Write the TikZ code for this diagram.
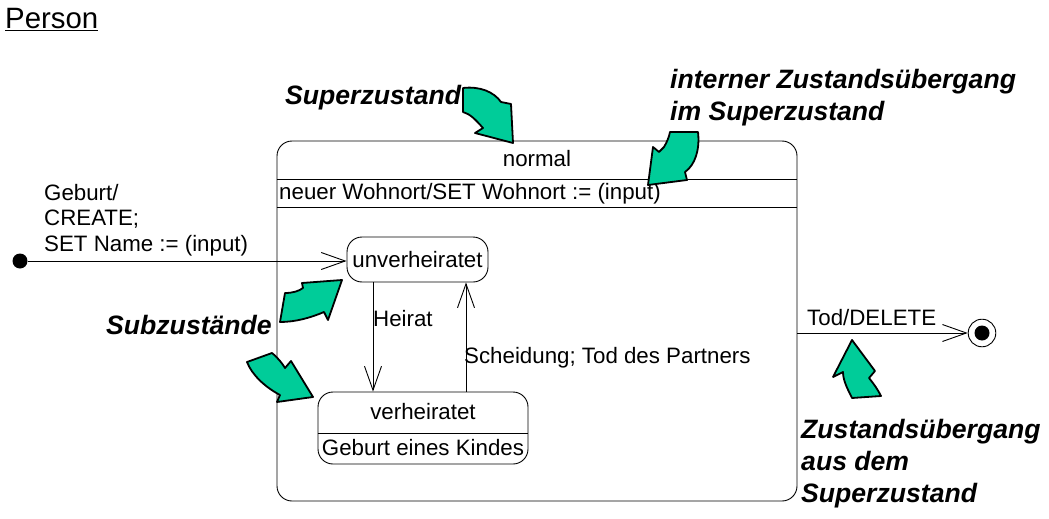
\documentclass[tikz,border=0pt]{standalone}
\usepackage{fontspec}
\setmainfont{Liberation Sans}
\usepackage{tikz}
\usetikzlibrary{positioning}
\usetikzlibrary{arrows.meta}

\definecolor{pointer}{RGB}{0,204,153}
\newcommand{\statefont}{\fontsize{22.3}{25.5}\selectfont}
\newcommand{\notefont}{\fontsize{26.6}{32}\selectfont\bfseries\itshape}

\tikzset{
  state/.style={draw, rounded corners=15pt, line width=0.9pt, inner sep=0pt},
  trans/.style={draw, line width=0.9pt, -{Straight Barb[length=24pt,width=17pt]}},
  txt/.style={inner sep=0pt, font=\statefont},
  note/.style={inner sep=0pt, font=\notefont, align=left, anchor=west},
  pointer/.style={fill=pointer, draw=black, line width=1.8pt, line join=round}
}

\begin{document}
\begin{tikzpicture}[x=1pt,y=-1pt]
\useasboundingbox (0,0) rectangle (1049,519);

\node (person) [inner sep=0pt, anchor=west, font=\fontsize{29.4}{32}\selectfont] at (5,20) {\underline{Person}};

% superzustand
\node (normal) [state, minimum width=520, minimum height=360] at (537,321) {};
\node (normaltitle) [txt] at (537,159) {normal};
\coordinate (sepa) at (0,179);
\coordinate (sepb) at (0,207);
\draw[line width=0.9pt] (normal.west |- sepa) -- (normal.east |- sepa);
\draw[line width=0.9pt] (normal.west |- sepb) -- (normal.east |- sepb);
\node (intern) [txt, anchor=west] at (279,194) {neuer Wohnort/SET Wohnort := (input)};

% subzustaende
\node (unv) [state, minimum width=141, minimum height=45, font=\statefont] at (417.5,259.5) {unverheiratet};
\node (verh) [state, minimum width=210, minimum height=72] at (423,428) {};
\coordinate (sepc) at (0,433);
\draw[line width=0.9pt] (verh.west |- sepc) -- (verh.east |- sepc);
\node (verhtitle) [txt] at (423,412) {verheiratet};
\node (verhact) [txt] at (423,448) {Geburt eines Kindes};

% start und ende
\node (init) [circle, fill, inner sep=0pt, minimum size=15] at (20,261) {};
\node (fin) [circle, draw, line width=0.9pt, inner sep=0pt, minimum size=27.6] at (982,333) {};
\fill (fin) circle (7.5);

% uebergaenge
\draw[trans] (init) -- (init -| unv.west);
\node (birth) [txt, anchor=west, align=left] at (44,220) {Geburt/\\CREATE;\\SET Name := (input)};
\draw[trans] ([xshift=-44.5pt]unv.south) -- ([xshift=-44.5pt]unv.south |- verh.north);
\node (heirat) [txt, anchor=west] at (373,319) {Heirat};
\draw[trans] ([xshift=48.5pt]unv.south |- verh.north) -- ([xshift=48.5pt]unv.south);
\node (scheid) [txt, anchor=west] at (464,358) {Scheidung; Tod des Partners};
\draw[trans] (normal.east |- fin) -- (fin);
\node (tod) [txt, anchor=west] at (807,318) {Tod/DELETE};

% erklaerungen
\node (supnote) [note] at (285,98) {Superzustand};
\node (intnote) [note] at (670,98) {interner Zustandsübergang\\im Superzustand};
\node (subnote) [note] at (106,325) {Subzustände};
\node (outnote) [note] at (801,464) {Zustandsübergang\\aus dem\\Superzustand};

\draw[pointer] (463,88) .. controls (480,86) and (494,92) .. (501,102) -- (511,104) -- (513,143)
  -- (475,133) -- (483,128) .. controls (475,119) and (470,114) .. (463,112) -- cycle;
\draw[pointer] (670,132) -- (698,132) .. controls (700,150) and (695,165) .. (685,172) -- (687,180)
  -- (648,185) -- (653,147) -- (659,152) -- (664,147) .. controls (667,142) and (669,137) .. cycle;
\draw[pointer] (285,293) .. controls (293,293) and (299,291) .. (303,288) -- (302,283) -- (342,280)
  -- (328,320) -- (324,312) .. controls (310,318) and (295,322) .. (280,322) -- cycle;
\draw[pointer] (247,362) -- (272,353) .. controls (278,358) and (282,363) .. (285,368) -- (291,361)
  -- (313,397) -- (277,402) -- (280,395) .. controls (265,387) and (252,375) .. cycle;
\draw[pointer] (852,340) -- (875,371) -- (869,378) .. controls (874,384) and (878,390) .. (881,396)
  -- (852,398) .. controls (847,388) and (843,380) .. (843,372) -- (833,377) -- cycle;
\end{tikzpicture}
\end{document}
